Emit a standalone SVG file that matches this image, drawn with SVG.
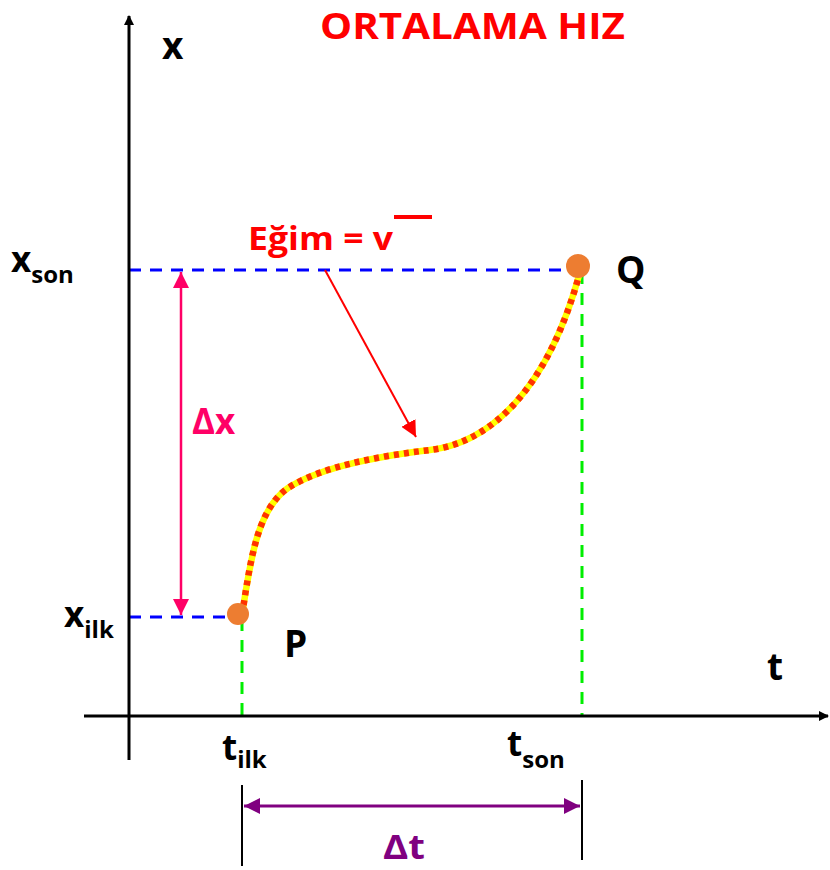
<svg xmlns="http://www.w3.org/2000/svg" width="830" height="870" viewBox="0 0 830 870">
<style>
text{font-family:"Open Sans",Lato,"Liberation Sans",sans-serif;font-weight:bold}
.blk{fill:#000}
.axis{stroke:#000;stroke-width:3;fill:none}
.blue{stroke:#0000ff;stroke-width:3;stroke-dasharray:12,9;fill:none}
.green{stroke:#00ee00;stroke-width:3;stroke-dasharray:12,9;fill:none}
.sub{font-size:24px}
</style>
<defs>
<marker id="ah" markerWidth="10" markerHeight="10" refX="9" refY="5" orient="auto" markerUnits="userSpaceOnUse"><path d="M0,0L10,5L0,10z" fill="#000"/></marker>
<marker id="pk" viewBox="0 0 10 10" markerWidth="16" markerHeight="16" refX="10" refY="5" orient="auto-start-reverse" markerUnits="userSpaceOnUse"><path d="M0,0L10,5L0,10z" fill="#ff0066"/></marker>
<marker id="pu" viewBox="0 0 10 10" markerWidth="16" markerHeight="16" refX="10" refY="5" orient="auto-start-reverse" markerUnits="userSpaceOnUse"><path d="M0,0L10,5L0,10z" fill="#800080"/></marker>
<marker id="rd" viewBox="0 0 10 10" markerWidth="16" markerHeight="16" refX="10" refY="5" orient="auto" markerUnits="userSpaceOnUse"><path d="M0,0L10,5L0,10z" fill="#ff0000"/></marker>
</defs>
<g id="connectors">
<line class="blue" x1="129" y1="270" x2="578" y2="270"/>
<line class="blue" x1="129" y1="617" x2="244" y2="617"/>
<line class="green" x1="582" y1="272" x2="582" y2="716"/>
<line class="green" x1="242" y1="619" x2="242" y2="716"/>
<line class="axis" x1="129" y1="760" x2="129" y2="16" marker-end="url(#ah)" stroke-width="2.5"/>
<line class="axis" x1="84" y1="716" x2="828" y2="716" marker-end="url(#ah)" stroke-width="2.5"/>
<line x1="181" y1="272" x2="181" y2="615" stroke="#ff0066" stroke-width="2.5" marker-start="url(#pk)" marker-end="url(#pk)"/>
<line x1="242" y1="785" x2="242" y2="866" stroke="#000" stroke-width="2"/>
<line x1="582" y1="780" x2="582" y2="860" stroke="#000" stroke-width="2"/>
<line x1="244" y1="806" x2="580" y2="806" stroke="#800080" stroke-width="3" marker-start="url(#pu)" marker-end="url(#pu)"/>
<line x1="325" y1="270" x2="416" y2="437" stroke="#ff0000" stroke-width="2" marker-end="url(#rd)"/>
</g>
<g id="curve">
<path d="M242,615 C250,565 256,510 288,488 C322,466 380,456 430,450 C490,443 548,390 580,272" fill="none" stroke="#ffff00" stroke-width="6.5"/>
<path d="M242,615 C250,565 256,510 288,488 C322,466 380,456 430,450 C490,443 548,390 580,272" fill="none" stroke="#ff3300" stroke-width="6.5" stroke-dasharray="5,5"/>
</g>
<g id="P"><circle cx="238" cy="614" r="11" fill="#ed7d31"/><text x="284" y="657" font-size="37" class="blk">P</text></g>
<g id="Q"><circle cx="578" cy="266" r="12" fill="#ed7d31"/><text x="616" y="283" font-size="37" class="blk">Q</text></g>
<g id="title"><text x="320" y="39" font-size="35" fill="#ff0000" textLength="305" lengthAdjust="spacingAndGlyphs">ORTALAMA HIZ</text></g>
<g id="xlabel"><text x="162" y="59" font-size="37" class="blk">x</text></g>
<g id="tlabel"><text x="767" y="680" font-size="37" class="blk">t</text></g>
<g id="egim"><text x="248" y="250" font-size="32" fill="#ff0000" textLength="145" lengthAdjust="spacingAndGlyphs">Eğim = v</text><line x1="394" y1="217" x2="432" y2="217" stroke="#ff0000" stroke-width="4"/></g>
<g id="xson"><text x="11" y="272" font-size="35" class="blk">x<tspan class="sub" dy="11">son</tspan></text></g>
<g id="xilk"><text x="64" y="627" font-size="35" class="blk">x<tspan class="sub" dy="11">ilk</tspan></text></g>
<g id="tilk"><text x="222" y="760" font-size="35" class="blk">t<tspan class="sub" dy="8">ilk</tspan></text></g>
<g id="tson"><text x="507" y="756" font-size="35" class="blk">t<tspan class="sub" dy="12">son</tspan></text></g>
<g id="dx"><text x="192" y="434" font-size="35" fill="#ff0066">Δx</text></g>
<g id="dt"><text x="383" y="859" font-size="34" fill="#800080" textLength="42" lengthAdjust="spacingAndGlyphs">Δt</text></g>
</svg>
